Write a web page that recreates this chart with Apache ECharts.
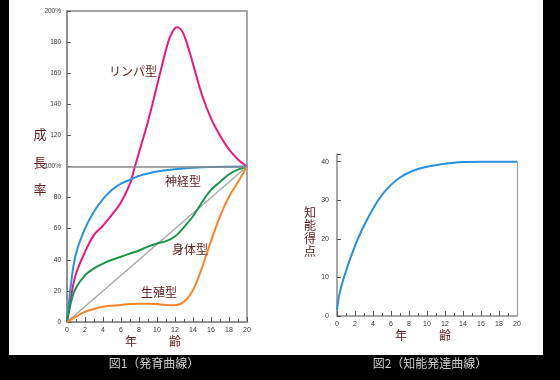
<!DOCTYPE html>
<html><head><meta charset="utf-8">
<script src="https://cdn.jsdelivr.net/npm/echarts@6/dist/echarts.min.js"></script>
<style>
html,body{margin:0;padding:0;background:#000;width:560px;height:380px;overflow:hidden}
#paper{position:absolute;left:9px;top:0;width:534px;height:355px;background:#fff}
#c{position:absolute;left:0;top:0;width:560px;height:380px}
</style></head><body>
<div id="paper"></div>
<div id="c"></div>
<script>
// ---- Figure 1 data (age in years, growth % of age-20 level)
const lymphAge  = [0,0.5,1,2,3,4,5,6,7,7.5,8,9,10,11,11.5,12.2,12.8,13.5,14,15,16,17,18,19,20];
const lymphVal  = [0,18,31,45,56,62,69,77,89,99,109,129,152,175,184,189.5,187,176,166,146,131,120,111,104.5,100];
const neuralAge = [0,0.5,1,2,3,4,5,6,7,8,9,10,12,14,16,20];
const neuralVal = [0,27,44,60,71,79,85,89,91.5,94,95.5,96.8,98.3,99.2,99.7,100];
const generalAge = [0,0.5,1,2,3,4,5,6,7,8,9,10,11,12,13,14,15,16,17,18,19,20];
const generalVal = [0,14,22,30,34.5,37.5,40,42,44,46,48.5,50.5,52,55,61,68,77,85,90,95,98,100];
const reproAge  = [0,1,2,3,4,5,6,7,8,9,10,11,12,13,14,15,16,17,18,19,20];
const reproVal  = [0,3.4,6.6,8.4,9.8,10.5,11,11.5,11.8,11.8,11.5,11,10.8,13,20.5,35,52,68,80.5,90,100];
const refAge    = [0,20];
const refVal    = [0,100];
// ---- Figure 2 data (intelligence score)
const iqAge = [0,0.3,1,2,3,4,5,6,7,8,9,10,12,14,16,20];
const iqVal = [1.5,6,11.7,18.2,23.4,27.8,31.4,34.0,35.9,37.2,38.1,38.7,39.5,39.9,40,40];
// ---- labels
const fig1YTicks = [0,20,40,60,80,100,120,140,160,180,200];
const fig1Labels = ['リンパ型','神経型','身体型','生殖型'];
const fig1YName = ['成','長','率'];
const fig2YName = ['知','能','得','点'];
const xName = ['年','齢'];
const captions = ['図1（発育曲線）','図2（知能発達曲線）'];

const zip = (a,b)=>a.map((x,i)=>[x,b[i]]);
const CJK = '"Noto Sans CJK JP", sans-serif';
const nameColor = '#5e1a1a';
const axisColor = '#8a8a8a';
const tickFont = {fontSize:7, color:'#333', fontFamily:'Liberation Sans, Arial, sans-serif'};

function xAx(gi){
  return {gridIndex:gi, type:'value', min:0, max:20, interval:2,
    axisLine:{show:true, lineStyle:{color:axisColor, width:1.5}},
    axisTick:{show:true, inside:true, length:5, lineStyle:{color:'#555'}},
    minorTick:{show:true, splitNumber:2, length:3, lineStyle:{color:'#555'}},
    splitLine:{show:false}, minorSplitLine:{show:false},
    axisLabel:Object.assign({margin:5}, tickFont)};
}
function line(name, age, val, color, w, gx, gy, extra){
  return Object.assign({type:'line', name, xAxisIndex:gx, yAxisIndex:gy,
    data:zip(age,val), smooth:0.35, showSymbol:false, symbol:'none', silent:true,
    lineStyle:{color, width:w}, itemStyle:{color}}, extra||{});
}
function txt(text, x, y, size, color){
  return {type:'text', x, y, z:100, style:{text, fill:color, font:size+'px '+CJK, textAlign:'center', textVerticalAlign:'middle'}};
}

const graphics = [];
fig1Labels.forEach((t,i)=>{
  const pos = [[133,71],[183,181],[190,249],[159,292]][i];
  graphics.push(txt(t,pos[0],pos[1],12,nameColor));
});
fig1YName.forEach((t,i)=>graphics.push(txt(t,40,[134,162,189][i],13,nameColor)));
fig2YName.forEach((t,i)=>graphics.push(txt(t,310,[212,225,238,251][i],12,nameColor)));
graphics.push(txt(xName[0],131,341,12,nameColor));
graphics.push(txt(xName[1],175,341,12,nameColor));
graphics.push(txt(xName[0],401,335,12,nameColor));
graphics.push(txt(xName[1],445,335,12,nameColor));
graphics.push(txt(captions[0],154,363,12,'#cfcfcf'));
graphics.push(txt(captions[1],430,363,12,'#cfcfcf'));

const chart = echarts.init(document.getElementById('c'), null, {renderer:'canvas'});
chart.setOption({
  animation:false,
  backgroundColor:'transparent',
  grid:[
    {left:67, top:11, width:180, height:311, show:true, borderColor:axisColor, borderWidth:1.5, backgroundColor:'transparent'},
    {left:337, top:154, width:180, height:162}
  ],
  xAxis:[xAx(0), xAx(1)],
  yAxis:[
    {gridIndex:0, type:'value', min:fig1YTicks[0], max:fig1YTicks[fig1YTicks.length-1], interval:20,
      axisLine:{show:true, lineStyle:{color:axisColor, width:1.5}},
      axisTick:{show:true, inside:true, length:4, lineStyle:{color:'#555'}},
      splitLine:{show:false},
      axisLabel:Object.assign({margin:6, formatter:v=>(v===100||v===200)?v+'%':String(v)}, tickFont, {fontSize:6.5})},
    {gridIndex:1, type:'value', min:0, max:42, interval:10,
      axisLine:{show:true, lineStyle:{color:axisColor, width:1.5}},
      axisTick:{show:true, inside:true, length:4, lineStyle:{color:'#555'}},
      splitLine:{show:false},
      axisLabel:Object.assign({margin:8, formatter:v=>(v%10===0)?String(v):''}, tickFont)}
  ],
  series:[
    line('ref', refAge, refVal, '#a9a9a9', 1.5, 0, 0, {smooth:false,
      markLine:{silent:true, symbol:'none', label:{show:false}, lineStyle:{color:'#8a8a8a', width:1.5, type:'solid'}, data:[{yAxis:100}]}}),
    line('リンパ型', lymphAge, lymphVal, '#e8197c', 2, 0, 0),
    line('神経型', neuralAge, neuralVal, '#2a92dc', 2, 0, 0),
    line('身体型', generalAge, generalVal, '#1e9448', 2, 0, 0),
    line('生殖型', reproAge, reproVal, '#f7842a', 2, 0, 0),
    line('知能', iqAge, iqVal, '#2a8fdc', 2, 1, 1, {
      markLine:{silent:true, symbol:'none', label:{show:false}, lineStyle:{color:'#9a9a9a', width:1.2, type:'solid'},
        data:[[{coord:[20,0]},{coord:[20,40]}]]}})
  ],
  graphic:graphics
});
</script></body></html>
